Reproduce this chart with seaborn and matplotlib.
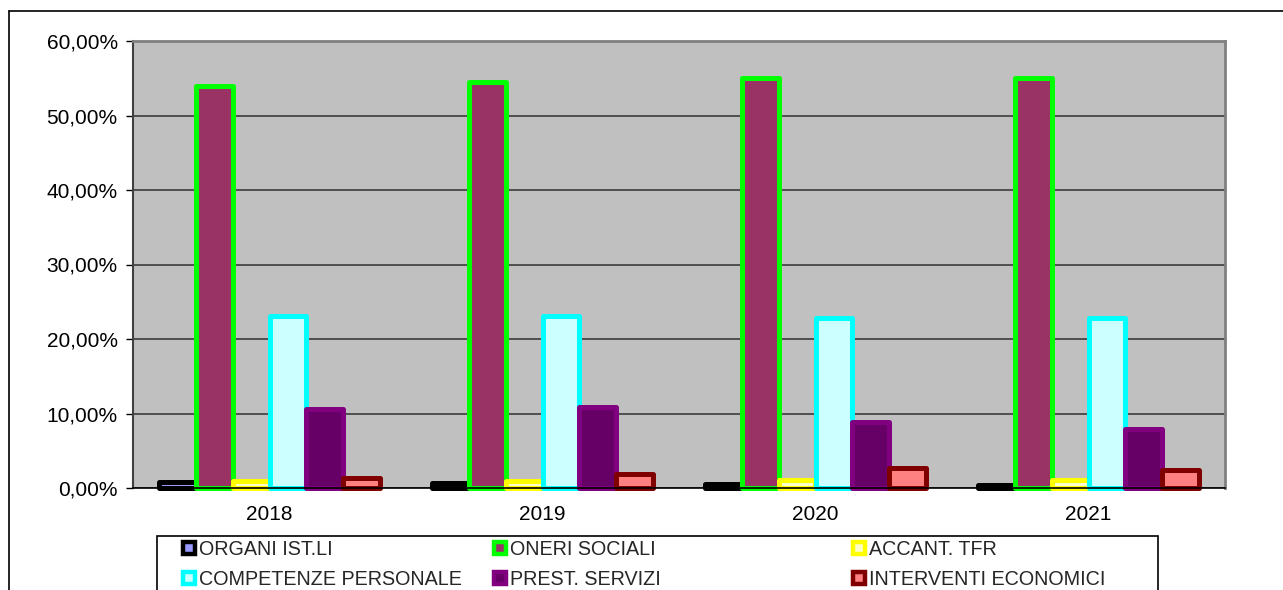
import matplotlib
matplotlib.use("Agg")
import matplotlib.pyplot as plt
import seaborn as sns
import pandas as pd
from matplotlib.patches import Patch, Rectangle
from matplotlib.lines import Line2D
from matplotlib.ticker import FuncFormatter, FixedLocator

# dati (percentuali)
anni = ["2018", "2019", "2020", "2021"]
voci = ["ORGANI IST.LI", "ONERI SOCIALI", "ACCANT. TFR",
        "COMPETENZE PERSONALE", "PREST. SERVIZI", "INTERVENTI ECONOMICI"]
organi = [0.75, 0.7, 0.5, 0.45]
oneri = [54.0, 54.5, 55.0, 55.0]
tfr = [0.9, 1.0, 1.1, 1.1]
competenze = [23.1, 23.1, 22.8, 22.8]
prestazioni = [10.6, 10.9, 8.9, 7.9]
interventi = [1.3, 1.9, 2.7, 2.4]

riempimento = ["#9999FF", "#993366", "#FFFFCC", "#CCFFFF", "#660066", "#FF8080"]
bordo = ["#000000", "#00FF00", "#FFFF00", "#00FFFF", "#800080", "#800000"]

serie = [organi, oneri, tfr, competenze, prestazioni, interventi]
righe = []
for voce, valori in zip(voci, serie):
    for anno, v in zip(anni, valori):
        righe.append({"anno": anno, "voce": voce, "valore": v / 100})
df = pd.DataFrame(righe)

sns.set_theme(style="white")
plt.rcParams["font.family"] = ["Liberation Sans", "DejaVu Sans"]

fig = plt.figure(figsize=(12.83, 5.90), dpi=100)
ax = fig.add_axes([133 / 1283, 1 - 488 / 590, (1225 - 133) / 1283, (488 - 41) / 590])
ax.set_facecolor("#C0C0C0")

sns.barplot(data=df, x="anno", y="valore", hue="voce", hue_order=voci,
            order=anni, palette=riempimento, saturation=1, width=0.81, gap=0,
            legend=False, ax=ax)

for cont, ec in zip(ax.containers, bordo):
    for p in cont:
        p.set_edgecolor(ec)
        p.set_linewidth(3.6)
        p.set_joinstyle("round")
        p.set_clip_on(False)

ax.set_ylim(0, 0.6)
ax.set_xlim(-0.5, 3.5)
ax.set_xlabel("")
ax.set_ylabel("")
ax.yaxis.set_major_locator(FixedLocator([i / 10 for i in range(7)]))
ax.yaxis.set_major_formatter(FuncFormatter(lambda v, _: f"{v * 100:.2f}%".replace(".", ",")))
ax.grid(axis="y", color="#303030", linewidth=1.1)
ax.set_axisbelow(True)

ax.xaxis.set_minor_locator(FixedLocator([-0.5, 0.5, 1.5, 2.5, 3.5]))
ax.tick_params(axis="x", which="major", length=0, pad=12, labelsize=15, colors="black")
ax.tick_params(axis="x", which="minor", length=6, width=1, direction="out", color="black")
ax.tick_params(axis="y", which="major", length=5, width=1, direction="out",
               pad=6, labelsize=15, colors="black", left=True)

for lato in ["top", "right"]:
    ax.spines[lato].set_color("#808080")
    ax.spines[lato].set_linewidth(2)
ax.spines["left"].set_color("#404040")
ax.spines["left"].set_linewidth(1.5)
ax.spines["bottom"].set_color("black")
ax.spines["bottom"].set_linewidth(1.2)

# cornice esterna del grafico
fig.add_artist(Line2D([9 / 1283, 1.0], [1 - 11 / 590, 1 - 11 / 590],
                      color="black", linewidth=1.2, transform=fig.transFigure))
fig.add_artist(Line2D([9 / 1283, 9 / 1283], [1 - 11 / 590, 0.0],
                      color="black", linewidth=1.2, transform=fig.transFigure))

# riquadro legenda
fig.add_artist(Rectangle((157 / 1283, -0.05), (1158 - 157) / 1283, (1 - 536 / 590) + 0.05,
                         facecolor="white", edgecolor="black", linewidth=1.2,
                         transform=fig.transFigure, zorder=0))

maniglie = [Patch(facecolor=f, edgecolor=e, linewidth=3.2, joinstyle="round")
            for f, e in zip(riempimento, bordo)]
colonne_x = [183, 494, 853]
for c, x in enumerate(colonne_x):
    idx = [c, c + 3]
    fig.legend([maniglie[i] for i in idx], [voci[i] for i in idx],
               loc="upper left", bbox_to_anchor=(x / 1283, 1 - 540 / 590),
               frameon=False, fontsize=14.2, handlelength=0.6, handleheight=0.6,
               handletextpad=0.2, labelspacing=0.55, borderpad=0, borderaxespad=0)

fig.savefig("out.png", dpi=100, facecolor="white")
